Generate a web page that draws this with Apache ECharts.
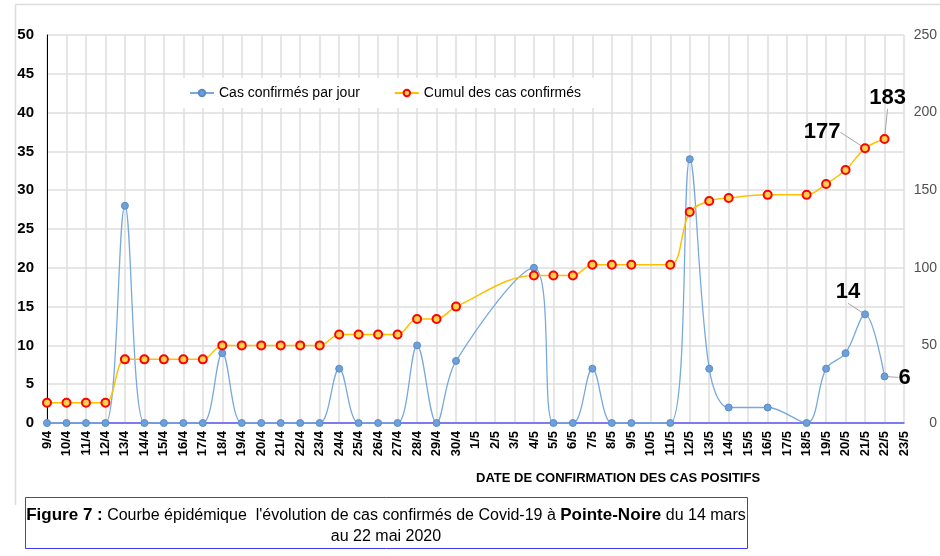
<!DOCTYPE html>
<html><head><meta charset="utf-8">
<script src="https://cdn.jsdelivr.net/npm/echarts@6/dist/echarts.min.js"></script>
<style>html,body{margin:0;padding:0;background:#fff}#c{width:940px;height:556px}</style>
</head><body><div id="c"></div>
<script>
const categories = ['9/4','10/4','11/4','12/4','13/4','14/4','15/4','16/4','17/4','18/4','19/4','20/4','21/4','22/4','23/4','24/4','25/4','26/4','27/4','28/4','29/4','30/4',
  '1/5','2/5','3/5','4/5','5/5','6/5','7/5','8/5','9/5','10/5','11/5','12/5','13/5','14/5','15/5','16/5','17/5','18/5','19/5','20/5','21/5','22/5','23/5'];
const dailyCases = [0,0,0,0,28,0,0,0,0,9,0,0,0,0,0,7,0,0,0,10,0,8,
  null,null,null,20,0,0,7,0,0,null,0,34,7,2,null,2,null,0,7,9,14,6,null];
const cumulCases = [13,13,13,13,41,41,41,41,41,50,50,50,50,50,50,57,57,57,57,67,67,75,
  null,null,null,95,95,95,102,102,102,null,102,136,143,145,null,147,null,147,154,163,177,183,null];
const leftTicks = [0,50,5];
const rightTicks = [0,250,50];
const seriesNames = ['Cas confirmés par jour','Cumul des cas confirmés'];
const labelledDaily = [42,43];
const labelledCumul = [42,43];

const NF = '"Liberation Sans Narrow","Arial Narrow","Liberation Sans",sans-serif';
const bigLabel = {show:true, fontFamily:NF, fontWeight:'bold', fontSize:22, color:'#000'};

function mk(arr, idxs, pos){
  return arr.map((v,i)=> idxs.indexOf(i)>=0 && v!=null
    ? {value:v, label:Object.assign({}, bigLabel, {position: pos(i)}), labelLine:{show: true}}
    : v);
}

const chart = echarts.init(document.getElementById('c'), null, {renderer:'canvas'});
chart.setOption({
  animation:false,
  backgroundColor:'#fff',
  grid:{left:47, right:34, top:35, bottom:133, containLabel:false},
  legend:{
    left:167, top:78, padding:[8,22,8,22], itemGap:34, itemWidth:24, itemHeight:8,
    backgroundColor:'#fff',
    textStyle:{fontFamily:NF, fontSize:14, color:'#000'},
    data:seriesNames
  },
  xAxis:{
    type:'category', data:categories, boundaryGap:false,
    axisLine:{show:true, lineStyle:{color:'#5a5af2', width:1.5}},
    axisTick:{show:false},
    splitLine:{show:true, interval:0, lineStyle:{color:'#dedede', width:1.5}},
    axisLabel:{interval:0, rotate:90, margin:8, fontFamily:NF, fontWeight:'bold', fontSize:13, color:'#000'}
  },
  yAxis:[{
    type:'value', min:leftTicks[0], max:leftTicks[1], interval:leftTicks[2],
    axisLine:{show:true, lineStyle:{color:'#000', width:1}},
    axisTick:{show:false},
    splitLine:{show:true, lineStyle:{color:'#dedede', width:1.5}},
    axisLabel:{margin:13, fontFamily:NF, fontWeight:'bold', fontSize:15, color:'#000'}
  },{
    type:'value', min:rightTicks[0], max:rightTicks[1], interval:rightTicks[2],
    axisLine:{show:false}, axisTick:{show:false}, splitLine:{show:false},
    axisLabel:{margin:33, align:'right', fontFamily:NF, fontSize:14, color:'#505050'}
  }],
  series:[{
    name:seriesNames[0], type:'line', yAxisIndex:0, smooth:0.35, connectNulls:true,
    z:3,
    symbol:'circle', symbolSize:7,
    lineStyle:{color:'#78a9de', width:1.3},
    itemStyle:{color:'#6d9fd8', borderColor:'#5b8cc8', borderWidth:1},
    labelLine:{show:true, lineStyle:{color:'#a6a6a6', width:1}},
    labelLayout:function(p){
      if(p.dataIndex===42) return {dx:-17, dy:-2};
      if(p.dataIndex===43) return {dx:5, dy:1};
      return {};
    },
    data:mk(dailyCases, labelledDaily, i=> i===43 ? 'right' : 'top')
  },{
    name:seriesNames[1], type:'line', yAxisIndex:1, smooth:0.35, connectNulls:true,
    z:4,
    symbol:'circle', symbolSize:8,
    lineStyle:{color:'#ffc000', width:1.5},
    itemStyle:{color:'#ffd24d', borderColor:'#ff0000', borderWidth:2},
    labelLine:{show:true, lineStyle:{color:'#a6a6a6', width:1}},
    labelLayout:function(p){
      if(p.dataIndex===42) return {dx:-43, dy:5};
      if(p.dataIndex===43) return {dx:3, dy:-20};
      return {};
    },
    data:mk(cumulCases, labelledCumul, i=> 'top')
  }],
  graphic:[
    {type:'line', shape:{x1:15.5,y1:4.5,x2:940,y2:4.5}, style:{stroke:'#dcdcdc', lineWidth:1.5}, silent:true},
    {type:'line', shape:{x1:15.5,y1:4.5,x2:15.5,y2:505}, style:{stroke:'#dcdcdc', lineWidth:1.5}, silent:true},
    {type:'text', left:476, top:472, style:{text:'DATE DE CONFIRMATION DES CAS POSITIFS', font:'bold 13px '+NF, fill:'#000'}},
    {type:'rect', shape:{x:25.5,y:497.5,width:722,height:51}, style:{fill:'#fff', stroke:'#3b3bf0', lineWidth:1}},
    {type:'text', x:386, y:505, style:{
      text:'{b|Figure 7 :} Courbe épidémique  l\'évolution de cas confirmés de Covid-19 à {b|Pointe-Noire} du 14 mars\nau 22 mai 2020',
      align:'center', font:'16px '+NF, fill:'#000', lineHeight:21,
      rich:{b:{font:'bold 17px '+NF, fill:'#000'}}
    }}
  ]
});
</script></body></html>
